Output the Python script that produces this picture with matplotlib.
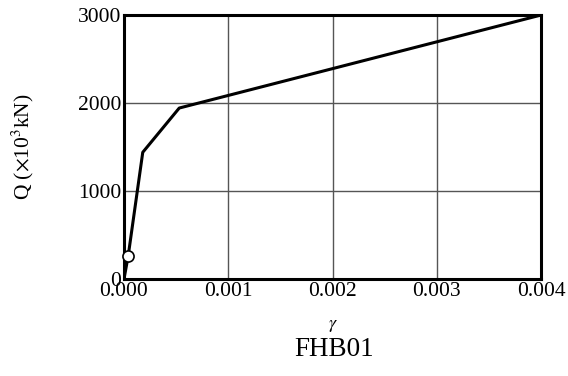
import matplotlib
matplotlib.use('Agg')
import matplotlib.pyplot as plt

# Shear force vs shear strain (FHB01)
gamma = [0.0, 0.00004, 0.00018, 0.00053, 0.004]
shear = [0, 260, 1440, 1943, 3000]
crack_gamma = [0.00004]
crack_shear = [260]

xticks = [0.000, 0.001, 0.002, 0.003, 0.004]
yticks = [0, 1000, 2000, 3000]

plt.rcParams['font.family'] = ['Liberation Serif', 'DejaVu Serif']
plt.rcParams['mathtext.fontset'] = 'stix'

fig = plt.figure(figsize=(5.68, 3.76), dpi=100)
ax = fig.add_axes([0.2183, 0.258, 0.7342, 0.702])

ax.plot(gamma, shear, color='black', linewidth=2.2, zorder=3)
ax.plot(crack_gamma, crack_shear, 'o', markersize=8, markerfacecolor='white',
        markeredgecolor='black', markeredgewidth=1.2, zorder=4, clip_on=False)

ax.set_xlim(0, 0.004)
ax.set_ylim(0, 3000)
ax.set_xticks(xticks)
ax.set_xticklabels([f'{v:.3f}' for v in xticks])
ax.set_yticks(yticks)
ax.set_yticklabels([str(v) for v in yticks])
ax.tick_params(length=0, labelsize=15.5, pad=2)
ax.grid(True, color='#555555', linewidth=1.0)
ax.set_axisbelow(True)
for s in ax.spines.values():
    s.set_linewidth(2.2)

ax.set_ylabel(r'Q ($\times$10$^3$kN)', fontsize=15.5, labelpad=30)
ax.set_xlabel(r'$\gamma$', fontsize=13, labelpad=12)
fig.text(0.588, 0.07, 'FHB01', fontsize=19.5, ha='center', va='center')

fig.savefig('out.png', dpi=100)
